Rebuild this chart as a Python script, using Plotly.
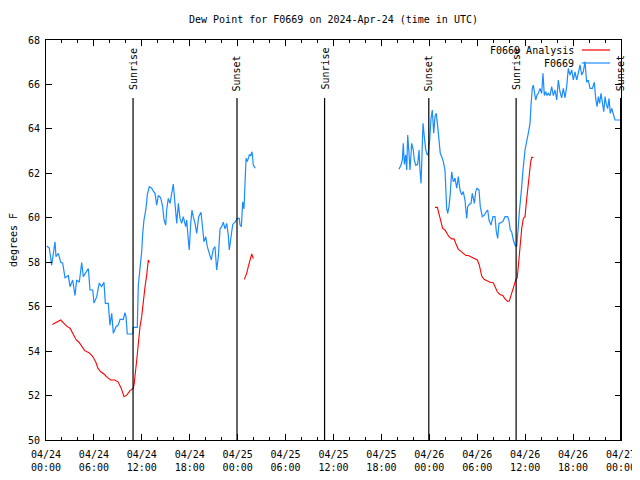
import pandas as pd
import plotly.graph_objects as go

START = pd.Timestamp("2024-04-24 00:00")

# Observed dew point (F0669) - hours since 04/24 00:00 UTC, two segments
obs1_hours = [0.09, 0.41, 0.71, 0.84, 1.13, 1.25, 1.54, 1.84, 2.09, 2.38, 2.79, 3.01, 3.34, 3.63,
              3.84, 4.17, 4.47, 4.67, 5.01, 5.30, 5.51, 5.85, 6.01, 6.35, 6.67, 6.97, 7.26, 7.43,
              7.80, 8.01, 8.23, 8.43, 8.77, 9.05, 9.27, 9.68, 9.89, 10.02, 10.18, 10.86, 10.93,
              11.43, 11.56, 11.77, 11.98, 12.11, 12.27, 12.52, 12.68, 12.93, 13.24, 13.44, 13.65,
              13.86, 14.06, 14.36, 14.61, 14.78, 14.99, 15.11, 15.31, 15.53, 15.74, 15.94, 16.15,
              16.37, 16.57, 16.78, 16.99, 17.19, 17.49, 17.62, 17.82, 17.94, 18.12, 18.28, 18.44,
              18.66, 18.87, 19.12, 19.41, 19.62, 19.78, 20.00, 20.20, 20.45, 20.70, 20.95, 21.16,
              21.37, 21.58, 21.79, 22.00, 22.20, 22.41, 22.63, 22.83, 22.95, 23.17, 23.38, 23.67,
              23.95, 24.20, 24.29, 24.46, 24.63, 24.79, 24.92, 25.05, 25.21, 25.46, 25.63, 25.80,
              25.96, 26.21]
obs1_vals = [58.73, 58.64, 57.87, 58.25, 58.92, 58.25, 58.40, 58.00, 57.96, 57.30, 57.40, 56.90, 57.20,
             56.50, 57.20, 57.10, 57.98, 57.35, 57.57, 57.72, 56.75, 56.75, 56.16, 56.45, 57.06, 56.90,
             57.10, 56.15, 56.15, 55.17, 55.70, 54.80, 55.10, 55.17, 55.43, 55.43, 55.73, 55.55, 54.77,
             54.77, 55.07, 55.07, 56.97, 57.72, 58.47, 59.30, 59.90, 60.42, 61.02, 61.40, 61.33, 61.20,
             61.10, 60.57, 61.00, 60.90, 60.50, 59.90, 59.67, 60.35, 60.87, 60.65, 61.10, 61.52, 60.65,
             59.75, 60.65, 59.97, 59.75, 60.05, 59.60, 59.90, 59.00, 58.55, 59.75, 60.35, 60.05, 59.75,
             59.30, 60.05, 60.25, 59.50, 58.92, 59.15, 58.70, 58.40, 58.10, 58.60, 58.70, 57.65, 58.25,
             59.50, 59.60, 59.80, 59.50, 59.75, 59.20, 58.55, 59.30, 59.70, 59.80, 59.97, 59.97, 59.67,
             59.60, 60.72, 60.40, 61.55, 62.68, 62.53, 62.83, 62.80, 62.97, 62.37, 62.23]

obs2_hours = [44.20, 44.45, 44.62, 44.74, 44.87, 45.04, 45.17, 45.29, 45.45, 45.58, 45.79, 45.99, 46.12,
              46.29, 46.54, 46.71, 46.83, 46.96, 47.04, 47.21, 47.37, 47.55, 47.75, 47.87, 48.05, 48.21,
              48.37, 48.55, 48.71, 48.87, 49.05, 49.21, 49.37, 49.55, 49.75, 49.96, 50.17, 50.30, 50.46,
              50.59, 50.80, 51.00, 51.21, 51.43, 51.63, 51.84, 52.05, 52.25, 52.46, 52.68, 52.80, 53.00,
              53.22, 53.38, 53.64, 53.81, 53.97, 54.22, 54.38, 54.63, 54.88, 55.13, 55.31, 55.47, 55.72,
              55.97, 56.22, 56.39, 56.56, 56.72, 56.97, 57.23, 57.48, 57.81, 57.98, 58.14, 58.31, 58.52,
              58.73, 58.94, 59.06, 59.14, 59.27, 59.44, 59.57, 59.69, 59.82, 59.98, 60.39, 60.61, 60.73,
              60.89, 61.02, 61.15, 61.32, 61.48, 61.65, 61.86, 62.07, 62.23, 62.40, 62.57, 62.73, 62.90,
              63.11, 63.32, 63.52, 63.74, 63.95, 64.15, 64.36, 64.57, 64.78, 64.99, 65.20, 65.40, 65.61,
              65.83, 66.03, 66.24, 66.45, 66.65, 66.87, 67.08, 67.28, 67.49, 67.70, 67.91, 68.12, 68.41,
              68.66, 68.83, 69.00, 69.16, 69.33, 69.50, 69.66, 69.84, 70.00, 70.16, 70.34, 70.50, 70.66,
              70.84, 71.04, 71.25, 72.00]
obs2_vals = [62.18, 62.37, 62.60, 63.35, 62.40, 62.82, 62.15, 63.72, 62.90, 62.15, 63.35, 63.05, 62.60,
             62.37, 62.40, 63.05, 62.15, 61.55, 62.40, 64.25, 63.65, 63.05, 62.82, 62.90, 63.50, 64.47,
             64.85, 63.80, 64.55, 64.70, 64.10, 63.50, 62.90, 62.75, 62.53, 62.15, 60.42, 60.20, 60.50,
             60.95, 62.07, 61.62, 61.78, 61.33, 61.85, 61.25, 61.03, 61.18, 60.80, 59.97, 60.50, 60.60,
             60.65, 61.10, 60.65, 61.18, 61.33, 61.25, 60.50, 60.05, 60.12, 60.27, 60.35, 59.90, 59.67,
             60.05, 60.05, 59.37, 59.07, 59.75, 59.78, 59.85, 60.05, 60.05, 59.85, 59.45, 59.37, 59.00,
             58.77, 58.70, 59.07, 59.60, 60.27, 60.80, 61.40, 62.00, 62.60, 63.05, 63.80, 64.25, 65.07,
             65.82, 65.97, 65.60, 65.30, 65.52, 65.60, 65.82, 65.60, 66.50, 65.50, 65.67, 65.50, 65.60,
             65.50, 65.90, 65.50, 65.75, 65.30, 66.20, 65.67, 65.40, 65.82, 65.40, 65.90, 66.72, 66.42,
             66.65, 66.20, 66.57, 66.20, 66.50, 66.88, 66.42, 66.57, 67.03, 66.10, 66.20, 65.82, 65.82,
             66.10, 65.37, 65.00, 65.45, 65.15, 65.60, 65.15, 64.77, 65.45, 65.10, 64.92, 65.37, 64.70,
             64.92, 64.67, 64.40, 64.40]

# Analysis dew point (F0669 Analysis) - three segments
ana1_hours = [0.79, 1.34, 1.84, 2.25, 2.67, 3.01, 3.42, 3.79, 4.13, 4.55, 4.85, 5.38, 5.80, 6.22, 6.51,
              6.85, 7.26, 7.68, 8.10, 8.60, 9.02, 9.43, 9.77, 10.11, 10.52, 10.93, 11.05, 11.36, 11.56,
              11.77, 11.98, 12.18, 12.40, 12.61, 12.81, 12.94]
ana1_vals = [55.20, 55.29, 55.40, 55.25, 55.10, 55.03, 54.72, 54.50, 54.40, 54.20, 54.02, 53.93, 53.78,
             53.52, 53.22, 53.07, 52.97, 52.82, 52.70, 52.70, 52.62, 52.32, 51.95, 52.02, 52.22, 52.32,
             52.55, 53.60, 54.50, 55.10, 55.55, 56.30, 56.90, 57.42, 58.10, 57.98]
ana2_hours = [24.83, 25.13, 25.33, 25.55, 25.76, 25.96]
ana2_vals = [57.23, 57.50, 57.80, 58.10, 58.37, 58.17]
ana3_hours = [48.71, 49.00, 49.25, 49.46, 49.67, 49.96, 50.17, 50.46, 50.80, 51.09, 51.34, 51.63, 51.93,
              52.25, 52.59, 52.88, 53.31, 53.72, 54.01, 54.26, 54.56, 54.85, 55.18, 55.60, 56.01, 56.22,
              56.51, 56.85, 57.19, 57.48, 57.81, 58.01, 58.23, 58.44, 58.64, 58.85, 59.01, 59.06, 59.23,
              59.39, 59.57, 59.77, 59.98, 60.11, 60.27, 60.39, 60.52, 60.69, 60.82, 61.02]
ana3_vals = [60.47, 60.47, 60.12, 59.75, 59.52, 59.45, 59.30, 59.15, 59.05, 59.05, 58.82, 58.58, 58.50,
             58.40, 58.30, 58.30, 58.22, 58.15, 58.10, 57.87, 57.38, 57.23, 57.17, 57.10, 57.08, 56.90,
             56.67, 56.55, 56.50, 56.35, 56.24, 56.25, 56.52, 56.75, 57.05, 57.23, 57.30, 57.50, 58.40,
             59.07, 59.52, 59.97, 60.05, 60.57, 61.10, 61.55, 62.07, 62.52, 62.72, 62.72]

sun_events = ["Sunrise", "Sunset", "Sunrise", "Sunset", "Sunrise", "Sunset"]
sun_times = ["2024-04-24 10:54", "2024-04-24 23:55", "2024-04-25 10:53",
             "2024-04-25 23:56", "2024-04-26 10:52", "2024-04-26 23:57"]

y_ticks = [50, 52, 54, 56, 58, 60, 62, 64, 66, 68]

FONT = "DejaVu Sans Mono"
RED = "#ff0000"
BLUE = "#1a8cff"

# page body has an 8px margin; margins are chosen so the plot box lands where the reference has it
W, H = 640, 480


def join_segments(segs):
    xs, ys = [], []
    for i, (h, v) in enumerate(segs):
        if i > 0:
            xs.append(None)
            ys.append(None)
        xs.extend(START + pd.to_timedelta(h, unit="h"))
        ys.extend(v)
    return xs, ys


ax, ay = join_segments([(ana1_hours, ana1_vals), (ana2_hours, ana2_vals), (ana3_hours, ana3_vals)])
ox, oy = join_segments([(obs1_hours, obs1_vals), (obs2_hours, obs2_vals)])

fig = go.Figure()
fig.add_trace(go.Scatter(x=ax, y=ay, mode="lines", name="F0669 Analysis",
                         line=dict(color=RED, width=1.1), connectgaps=False))
fig.add_trace(go.Scatter(x=ox, y=oy, mode="lines", name="F0669",
                         line=dict(color=BLUE, width=1.2), connectgaps=False))

# Sunrise / sunset markers
for ev, t in zip(sun_events, sun_times):
    fig.add_shape(type="line", xref="x", yref="paper", x0=t, x1=t, y0=0, y1=0.855,
                  line=dict(color="black", width=1.2))
    if ev == "Sunrise":
        fig.add_annotation(x=t, xref="x", y=0.985, yref="paper", text=ev, textangle=-90,
                           showarrow=False, xanchor="center", yanchor="top",
                           font=dict(family=FONT, size=10, color="black"))
    else:
        fig.add_annotation(x=t, xref="x", y=0.866, yref="paper", text=ev, textangle=-90,
                           showarrow=False, xanchor="center", yanchor="bottom",
                           font=dict(family=FONT, size=10, color="black"))

# gnuplot-style legend (text, then line sample)
legend_items = [("F0669 Analysis", RED, 0.975), ("F0669", BLUE, 0.9425)]
for label, col, yy in legend_items:
    fig.add_annotation(x=0.922, xref="paper", y=yy, yref="paper", text=label, showarrow=False,
                       xanchor="right", yanchor="middle", font=dict(family=FONT, size=10, color="black"))
    fig.add_shape(type="line", xref="paper", yref="paper", x0=0.932, x1=0.981, y0=yy, y1=yy,
                  line=dict(color=col, width=1.2))

fig.update_layout(
    width=W, height=H,
    margin=dict(l=38, r=27, t=32, b=48, autoexpand=False),
    paper_bgcolor="white", plot_bgcolor="white",
    showlegend=False,
    font=dict(family=FONT, size=10, color="black"),
    title=dict(text="Dew Point for F0669 on 2024-Apr-24 (time in UTC)", x=0.5, xref="paper",
               xanchor="center", y=1 - 11 / H, yref="container", yanchor="middle",
               font=dict(family=FONT, size=10), automargin=False),
)
fig.update_xaxes(
    type="date", range=["2024-04-24 00:00", "2024-04-27 00:00"], automargin=False,
    tick0="2024-04-24", dtick=6 * 3600 * 1000, tickformat="%m/%d<br>%H:%M",
    ticks="inside", ticklen=6, tickcolor="black", showline=True, linecolor="black", linewidth=1,
    mirror="ticks", showgrid=False, zeroline=False,
    minor=dict(ticks="inside", ticklen=3, dtick=2 * 3600 * 1000, tick0="2024-04-24", tickcolor="black"),
    tickfont=dict(family=FONT, size=10), ticklabelstandoff=5,
)
fig.update_yaxes(
    range=[50, 68], tickvals=y_ticks, ticks="inside", ticklen=6, tickcolor="black", automargin=False,
    showline=True, linecolor="black", linewidth=1, mirror="ticks", showgrid=False, zeroline=False,
    title=dict(text="degrees F", font=dict(family=FONT, size=10), standoff=16),
    tickfont=dict(family=FONT, size=10), ticklabelstandoff=3,
)

fig.write_html("out.html")
